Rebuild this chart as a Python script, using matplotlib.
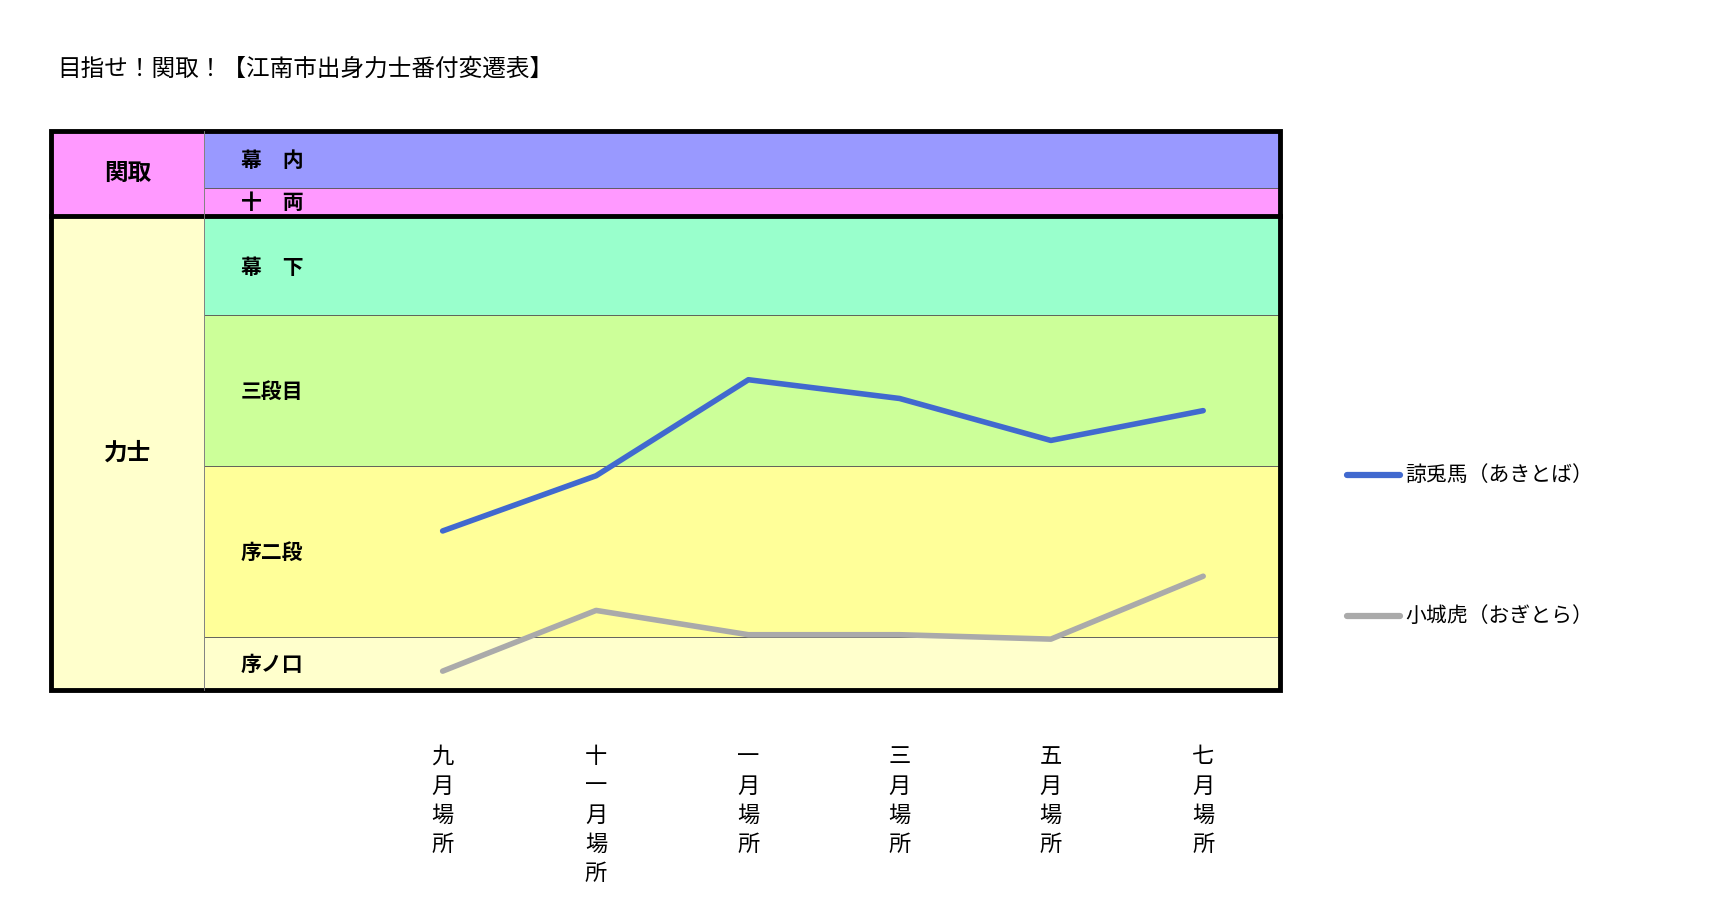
import matplotlib.pyplot as plt
from matplotlib.patches import Rectangle

plt.rcParams['font.family'] = 'Noto Sans CJK JP'

# 場所
basho = ['九月場所', '十一月場所', '一月場所', '三月場所', '五月場所', '七月場所']
basho_x = [401, 540, 678, 815, 952, 1090]

# 番付の位置（上ほど高位、画像の縦座標）
akitoba = [481, 431, 344, 361, 399, 372]
ogitora = [608, 553, 575, 575, 579, 522]

# 段の区切り
divisions = ['幕　内', '十　両', '幕　下', '三段目', '序二段', '序ノ口']
div_top = [119, 170, 197, 285, 422, 577]
div_bottom = [170, 195, 285, 422, 577, 625]
div_colors = ['#9999ff', '#ff99ff', '#99ffcc', '#ccff99', '#ffff99', '#ffffcc']

S = 1722 / 1560
fig = plt.figure(figsize=(17.22, 9.24), dpi=100)
ax = fig.add_axes([0, 0, 1, 1])
ax.set_xlim(0, 1560)
ax.set_ylim(924 / S, 0)
ax.axis('off')

x0, x1, xl = 46, 1160, 185
for name, t, b, c in zip(divisions, div_top, div_bottom, div_colors):
    ax.add_patch(Rectangle((xl, t), x1 - xl, b - t, facecolor=c, edgecolor='#555555', lw=0.6))
    ax.text(218, (t + b) / 2 + 1, name, fontsize=15, fontweight='bold', va='center', ha='left')

ax.add_patch(Rectangle((x0, 119), xl - x0, 76, facecolor='#ff99ff', edgecolor='none'))
ax.add_patch(Rectangle((x0, 195), xl - x0, 430, facecolor='#ffffcc', edgecolor='none'))
ax.text(116, 157, '関取', fontsize=17, fontweight='bold', ha='center', va='center')
ax.text(116, 410, '力士', fontsize=17, fontweight='bold', ha='center', va='center')

ax.add_patch(Rectangle((x0, 119), x1 - x0, 506, facecolor='none', edgecolor='black', lw=3.5))
ax.plot([x0, x1], [196, 196], color='black', lw=3.5)
ax.plot([xl, xl], [119, 625], color='#888888', lw=0.6)

ax.plot(basho_x, akitoba, color='#4169cf', lw=4, solid_capstyle='round', label='諒兎馬（あきとば）')
ax.plot(basho_x, ogitora, color='#aaaaaa', lw=4, solid_capstyle='round', label='小城虎（おぎとら）')

for x, name in zip(basho_x, basho):
    ax.text(x, 675, '\n'.join(name), fontsize=16, ha='center', va='top', linespacing=1.35)

ax.text(52, 63, '目指せ！関取！【江南市出身力士番付変遷表】', fontsize=17, va='center')

# 凡例
for ly, line in zip([430, 558], ax.get_lines()[-2:]):
    ax.plot([1220, 1268], [ly, ly], color=line.get_color(), lw=4.5, solid_capstyle='round')
    ax.text(1273, ly, line.get_label(), fontsize=15, va='center')

fig.savefig('out.png', dpi=100)
